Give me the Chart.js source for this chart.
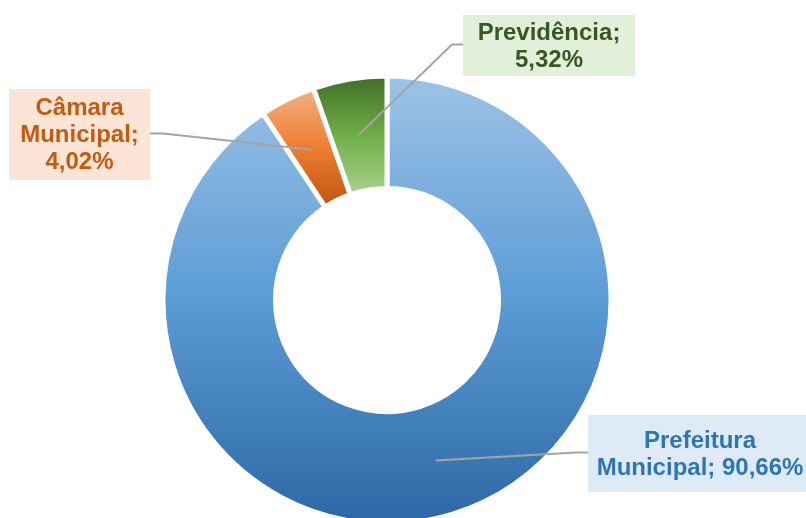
<!DOCTYPE html>
<html>
<head>
<meta charset="utf-8">
<script src="https://cdn.jsdelivr.net/npm/chart.js@4.4.1/dist/chart.umd.min.js"></script>
<style>
  html, body { margin: 0; padding: 0; background: #ffffff; }
  #chartContainer { width: 806px; height: 518px; }
</style>
</head>
<body>
<div id="chartContainer"><canvas id="chartCanvas" width="806" height="518"></canvas></div>
<script>
const categories = ['Prefeitura Municipal', 'Câmara Municipal', 'Previdência'];
const shares = [90.66, 4.02, 5.32];
const textColors = ['#2e75b6', '#c55a11', '#385723'];
const boxColors = ['#deebf7', '#fbe5d6', '#e2f0d9'];
const gradientStops = [
  ['#9dc3e6', '#5b9bd5', '#2c68a5'],
  ['#f4b183', '#ed7d31', '#c0560f'],
  ['#3f6e25', '#70ad47', '#a9d18e']
];

// callout boxes (layout only)
const labelBoxes = [
  { x: 588, y: 415, w: 230, h: 77, cx: 700, wrap: 212 },
  { x: 9, y: 89, w: 141, h: 91, cx: 79.5, wrap: 132 },
  { x: 463, y: 15, w: 172, h: 61, cx: 549, wrap: 165 }
];
const elbowGap = [12, 13, 11];

const OUTER_R = 224;
const CUTOUT = '49.8%';
const FONT = 'bold 24px "Liberation Sans", Arial, sans-serif';
const LINE_H = 27;

function fmtPct(v) {
  return v.toFixed(2).replace('.', ',') + '%';
}

function sliceGradient(context) {
  const chart = context.chart;
  const area = chart.chartArea;
  const stops = gradientStops[context.dataIndex];
  if (!area) return stops[1];
  const cy = (area.top + area.bottom) / 2;
  const innerR = OUTER_R * parseFloat(CUTOUT) / 100;
  const total = shares.reduce((a, b) => a + b, 0);
  let start = 0;
  for (let i = 0; i < context.dataIndex; i++) start += shares[i];
  const a0 = start / total * 2 * Math.PI - Math.PI / 2;
  const a1 = (start + shares[context.dataIndex]) / total * 2 * Math.PI - Math.PI / 2;
  let top = Infinity, bottom = -Infinity;
  for (let k = 0; k <= 60; k++) {
    const a = a0 + (a1 - a0) * k / 60;
    [OUTER_R, innerR].forEach(r => {
      const y = cy + r * Math.sin(a);
      top = Math.min(top, y);
      bottom = Math.max(bottom, y);
    });
  }
  const g = chart.ctx.createLinearGradient(0, top, 0, bottom);
  g.addColorStop(0, stops[0]);
  g.addColorStop(0.5, stops[1]);
  g.addColorStop(1, stops[2]);
  return g;
}

function wrapText(ctx, text, maxWidth) {
  const words = text.split(' ');
  const lines = [];
  let line = '';
  words.forEach(w => {
    const test = line ? line + ' ' + w : w;
    if (line && ctx.measureText(test).width > maxWidth) {
      lines.push(line);
      line = w;
    } else {
      line = test;
    }
  });
  if (line) lines.push(line);
  return lines;
}

const calloutPlugin = {
  id: 'callouts',
  afterDatasetsDraw(chart) {
    const ctx = chart.ctx;
    const meta = chart.getDatasetMeta(0);
    ctx.save();
    meta.data.forEach((arc, i) => {
      const box = labelBoxes[i];
      const mid = (arc.startAngle + arc.endAngle) / 2;
      const r = (arc.innerRadius + arc.outerRadius) / 2;
      const ax = arc.x + r * Math.cos(mid);
      const ay = arc.y + r * Math.sin(mid);
      const boxMidY = box.y + box.h / 2 - 1;
      const leftSide = box.cx < arc.x;
      const sx = leftSide ? box.x + box.w : box.x;
      const ex = leftSide ? sx + elbowGap[i] : sx - elbowGap[i];

      ctx.strokeStyle = '#a5a5a5';
      ctx.lineWidth = 2;
      ctx.beginPath();
      ctx.moveTo(sx, boxMidY);
      ctx.lineTo(ex, boxMidY);
      ctx.lineTo(ax, ay);
      ctx.stroke();

      ctx.fillStyle = boxColors[i];
      ctx.fillRect(box.x, box.y, box.w, box.h);

      ctx.font = FONT;
      ctx.fillStyle = textColors[i];
      ctx.textAlign = 'center';
      ctx.textBaseline = 'middle';
      const text = categories[i] + '; ' + fmtPct(shares[i]);
      const lines = wrapText(ctx, text, box.wrap);
      const y0 = box.y + box.h / 2 - (lines.length - 1) * LINE_H / 2 + 1;
      lines.forEach((ln, k) => ctx.fillText(ln, box.cx, y0 + k * LINE_H));
    });
    ctx.restore();
  }
};

const ctx = document.getElementById('chartCanvas').getContext('2d');
const currentChart = new Chart(ctx, {
  type: 'doughnut',
  data: {
    labels: categories,
    datasets: [{
      data: shares,
      backgroundColor: sliceGradient,
      borderColor: '#ffffff',
      borderWidth: 5,
      clip: false
    }]
  },
  options: {
    responsive: false,
    animation: false,
    events: [],
    radius: OUTER_R,
    cutout: CUTOUT,
    layout: { padding: { top: 82, right: 32, left: 0, bottom: 0 } },
    plugins: {
      legend: { display: false },
      tooltip: { enabled: false },
      title: { display: false }
    }
  },
  plugins: [calloutPlugin]
});
</script>
</body>
</html>
